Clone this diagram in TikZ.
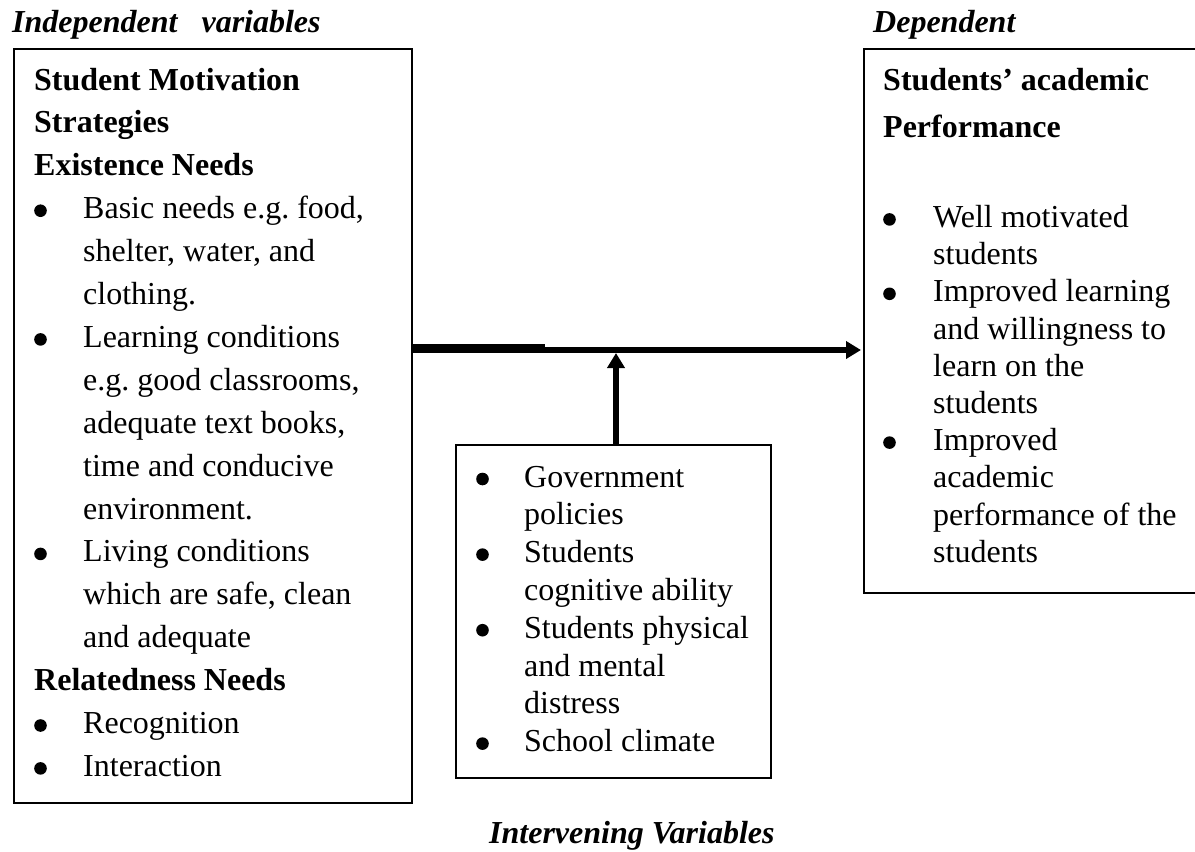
\documentclass[tikz,border=0pt]{standalone}
\usepackage{fontspec}
\setmainfont{Liberation Serif}
\usetikzlibrary{arrows.meta}
\frenchspacing
\newcommand\blt{\tikz[baseline=0pt]\fill (6.3pt,8pt) circle[radius=6.3pt];}
\begin{document}
\begin{tikzpicture}[x=1pt,y=-1pt,
  box/.style={draw=black,line width=1.5pt,inner sep=0pt,anchor=north west},
  txt/.style={inner sep=0pt,anchor=base west},
  title/.style={inner sep=0pt,anchor=base west,font=\fontsize{32}{38}\selectfont\bfseries\itshape},
  conn/.style={line width=6pt,-{Triangle[length=15pt,width=17pt]}}]
\fill[white] (0,0) rectangle (1195,852);
\useasboundingbox (0,0) rectangle (1195,852);

% boxes
\node[box,minimum width=398pt,minimum height=754pt] (lbox) at (13,48) {};
\node[box,minimum width=315pt,minimum height=333pt] (mbox) at (455,444) {};
\node[box,minimum width=345pt,minimum height=544pt] (rbox) at (863,48) {};

% titles
\node[title] (tind) at (12,32) {Independent\ \ \ variables};
\node[title] (tdep) at (873,32) {Dependent};
\node[title] (tint) at (489,843) {Intervening Variables};

% left box text
\node[txt,font=\fontsize{32}{42.9}\selectfont] (ltext) at (34,90) {%
\begin{tabular}[t]{@{}p{49pt}@{}l@{}}
\multicolumn{2}{@{}l@{}}{\bfseries Student Motivation}\\
\multicolumn{2}{@{}l@{}}{\bfseries Strategies}\\
\multicolumn{2}{@{}l@{}}{\bfseries Existence Needs}\\
\blt & Basic needs e.g. food,\\
 & shelter, water, and\\
 & clothing.\\
\blt & Learning conditions\\
 & e.g. good classrooms,\\
 & adequate text books,\\
 & time and conducive\\
 & environment.\\
\blt & Living conditions\\
 & which are safe, clean\\
 & and adequate\\
\multicolumn{2}{@{}l@{}}{\bfseries Relatedness Needs}\\
\blt & Recognition\\
\blt & Interaction
\end{tabular}};

% middle box text
\node[txt,font=\fontsize{32}{37.8}\selectfont] (mtext) at (476,487) {%
\begin{tabular}[t]{@{}p{48pt}@{}l@{}}
\blt & Government\\
 & policies\\
\blt & Students\\
 & cognitive ability\\
\blt & Students physical\\
 & and mental\\
 & distress\\
\blt & School climate
\end{tabular}};

% right box text
\node[txt,font=\fontsize{32}{37.2}\selectfont] (rtext) at (883,90) {%
\begin{tabular}[t]{@{}p{50pt}@{}l@{}}
\multicolumn{2}{@{}l@{}}{\bfseries Students’ academic}\\[10pt]
\multicolumn{2}{@{}l@{}}{\bfseries Performance}\\[53pt]
\blt & Well motivated\\
 & students\\
\blt & Improved learning\\
 & and willingness to\\
 & learn on the\\
 & students\\
\blt & Improved\\
 & academic\\
 & performance of the\\
 & students
\end{tabular}};

% connectors
\coordinate (hy) at (0,350);
\coordinate (th) at (545,348.5);
\coordinate (j) at (616,353);
\draw[line width=9pt] (lbox.east |- th) -- (th);
\draw[conn,shorten >=2pt] (lbox.east |- hy) -- (rbox.west |- hy);
\draw[conn] (j |- mbox.north) -- (j);
\end{tikzpicture}
\end{document}
